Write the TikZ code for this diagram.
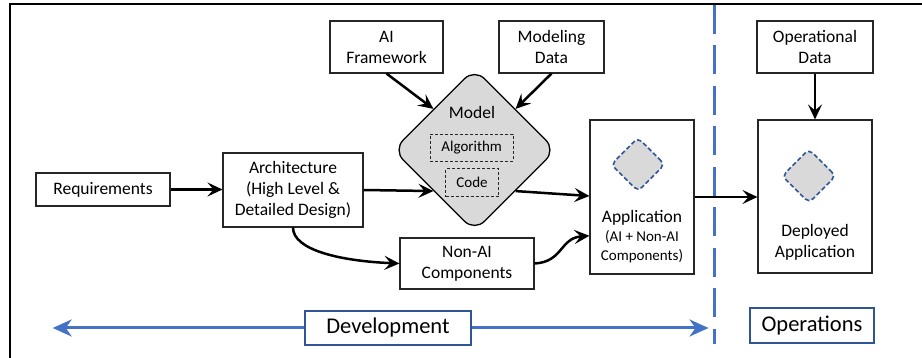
\documentclass[tikz,border=0pt]{standalone}
\usepackage{fontspec}
\setmainfont{Carlito}
\usetikzlibrary{arrows.meta,shapes.geometric,calc}
\definecolor{lblue}{HTML}{4472C4}
\definecolor{dblue}{HTML}{2F5597}
\definecolor{lgray}{HTML}{D9D9D9}
\begin{document}
\begin{tikzpicture}[x=1pt,y=1pt,
  box/.style={draw=black!85, line width=1.1pt, fill=white, inner sep=0pt, align=center,
    font=\fontsize{17.5}{21}\selectfont, text=black},
  txt/.style={inner sep=0pt, align=center, font=\fontsize{17.5}{21}\selectfont, text=black},
  smalltxt/.style={inner sep=0pt, align=center, font=\fontsize{15}{19}\selectfont, text=black},
  dbox/.style={draw=black!85, line width=0.8pt, dash pattern=on 3pt off 2pt, inner sep=0pt,
    font=\fontsize{15}{19}\selectfont, text=black},
  flow/.style={line width=2.5pt, -{Stealth[length=15pt,width=14pt,inset=6pt]}},
  minidia/.style={shape=diamond, draw=dblue, fill=lgray, line width=1.6pt,
    dash pattern=on 4.5pt off 2.5pt, rounded corners=5pt, minimum width=54pt, minimum height=54pt, inner sep=0pt},
  phase/.style={draw=dblue, line width=2pt, fill=white, inner sep=0pt,
    font=\fontsize{22.5}{26}\selectfont, text=black},
  bluearrow/.style={draw=lblue, line width=3pt, -{Stealth[length=19pt,width=17pt,inset=6pt]}}
]
\useasboundingbox (0,0) rectangle (922,358);
% frame
\coordinate (ftop) at (922,354);
\coordinate (fcorner) at (10,354);
\coordinate (fbot) at (10,0);
\draw[line width=2pt] (ftop) -- (fcorner) -- (fbot);
% phase separator
\coordinate (septop) at (714,353);
\coordinate (sepbot) at (714,14);
\draw[lblue, line width=3pt, dash pattern=on 29pt off 11.5pt] (septop) -- (sepbot);

% boxes
\node[box, minimum width=134pt, minimum height=33pt] (req) at (103,168.5) {Requirements};
\node[box, minimum width=140pt, minimum height=74pt] (arch) at (293,168) {Architecture\\(High Level \&\\Detailed Design)};
\node[box, minimum width=113pt, minimum height=52pt] (aifw) at (386.5,311) {AI\\Framework};
\node[box, minimum width=105pt, minimum height=52pt] (mdata) at (551.5,311) {Modeling\\Data};
\node[box, minimum width=116pt, minimum height=52pt] (opdata) at (815,311) {Operational\\Data};
\node[box, minimum width=134pt, minimum height=51pt] (nonai) at (467,94.5) {Non-AI\\Components};
\node[box, minimum width=104pt, minimum height=154pt] (app) at (642,161) {};
\node[box, minimum width=114pt, minimum height=153pt] (dep) at (815,161.5) {};

% model diamond
\node[shape=diamond, draw=black, fill=lgray, line width=1.3pt, rounded corners=14pt,
  minimum width=163pt, minimum height=163pt, inner sep=0pt] (model) at (474.5,208) {};
\node[txt] (modellbl) at (472,246) {Model};
\node[dbox, minimum width=83pt, minimum height=27pt] (algo) at (471.7,210.5) {Algorithm};
\node[dbox, minimum width=53pt, minimum height=28pt] (code) at (472,175.3) {Code};

% application contents
\node[minidia] (appdia) at (638,193.5) {};
\node[txt] (apptitle) at (642,140) {Application};
\node[smalltxt] (appsub) at (642,111.5) {(AI + Non-AI\\Components)};
\node[minidia] (depdia) at (809,182) {};
\node[txt] (deptxt) at (815,116) {Deployed\\Application};

% phases
\node[phase, minimum width=166pt, minimum height=34pt] (dev) at (388,30) {Development};
\node[phase, minimum width=124pt, minimum height=35pt] (ops) at (812,32.5) {Operations};
\coordinate (devleft) at (52.7,30);
\coordinate (devright) at (708.5,30);
\draw[bluearrow] (dev.west) -- (devleft);
\draw[bluearrow] (dev.east) -- (devright);

% flows
\draw[flow] (req.east) -- (req.east -| arch.west);
\draw[flow] (aifw.south) -- (model.north west);
\draw[flow] (mdata.south) -- (model.north east);
\draw[flow] (opdata.south) -- (dep.north);
\draw[flow] (arch.east) -- (model.south west);
\draw[flow] (model.south east) -- (app.west |- 0,162);
\draw[flow] (app.east) -- (dep.west |- app.east);
\draw[flow] (arch.south) .. controls (293,108) and (340,97) .. (nonai.west);
\coordinate (appin) at ($(app.south west)!0.25!(app.north west)$);
\draw[flow] (nonai.east) .. controls (563,96) and (560,120) .. (appin);
\end{tikzpicture}
\end{document}
